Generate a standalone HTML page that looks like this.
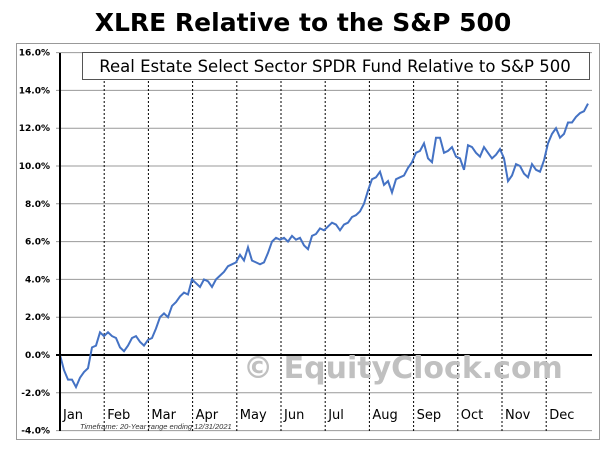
<!DOCTYPE html>
<html><head><meta charset="utf-8"><style>
body{margin:0;background:#fff;width:606px;height:454px;overflow:hidden;font-family:"DejaVu Sans","Liberation Sans",sans-serif}
</style></head><body>
<svg width="606" height="454" xmlns="http://www.w3.org/2000/svg">
<text x="303" y="31" text-anchor="middle" font-family="DejaVu Sans, sans-serif" font-weight="bold" font-size="25">XLRE Relative to the S&amp;P 500</text>
<rect x="16.5" y="43.5" width="583" height="396" fill="none" stroke="#999"/>
<g id="grid"></g>
<g id="ylabels"></g>
<g id="months"></g>
<text x="403" y="378" text-anchor="middle" font-family="DejaVu Sans, sans-serif" font-weight="bold" font-size="30" fill="#c0c0c0">© EquityClock.com</text>
<rect x="82.5" y="52.5" width="507" height="27" fill="#fff" stroke="#555"/>
<text x="335" y="72" text-anchor="middle" font-family="DejaVu Sans, sans-serif" font-size="16.5">Real Estate Select Sector SPDR Fund Relative to S&amp;P 500</text>
<path id="line" fill="none" stroke="#4472c4" stroke-width="2"/>
<line x1="60" y1="53" x2="60" y2="431" stroke="#000" stroke-width="2"/>
<text x="80" y="429" font-family="Liberation Sans, sans-serif" font-style="italic" font-size="7.5" fill="#333">Timeframe: 20-Year range ending 12/31/2021</text>
</svg>
<script>
const values=[0,-0.8,-1.3,-1.3,-1.7,-1.2,-0.9,-0.7,0.4,0.5,1.2,1.0,1.2,1.0,0.9,0.4,0.2,0.5,0.9,1.0,0.7,0.5,0.8,0.9,1.4,2.0,2.2,2.0,2.6,2.8,3.1,3.3,3.2,4.0,3.8,3.6,4.0,3.9,3.6,4.0,4.2,4.4,4.7,4.8,4.9,5.3,5.0,5.7,5.0,4.9,4.8,4.9,5.4,6.0,6.2,6.1,6.2,6.0,6.3,6.1,6.2,5.8,5.6,6.3,6.4,6.7,6.6,6.8,7.0,6.9,6.6,6.9,7.0,7.3,7.4,7.6,8.0,8.7,9.3,9.4,9.7,9.0,9.2,8.6,9.3,9.4,9.5,9.9,10.2,10.7,10.8,11.2,10.4,10.2,11.5,11.5,10.7,10.8,11.0,10.5,10.4,9.8,11.1,11.0,10.7,10.5,11.0,10.7,10.4,10.6,10.9,10.4,9.2,9.5,10.1,10.0,9.6,9.4,10.1,9.8,9.7,10.3,11.2,11.7,12.0,11.5,11.7,12.3,12.3,12.6,12.8,12.9,13.3];
const yTicks=[16,14,12,10,8,6,4,2,0,-2,-4];
const months=["Jan","Feb","Mar","Apr","May","Jun","Jul","Aug","Sep","Oct","Nov","Dec"];
const monthStarts=[0,1,2,3,4,5,6,7,8,9,10,11];
const NS="http://www.w3.org/2000/svg";
const y=v=>355-v*18.9;
const xIdx=i=>60+i*(528/(values.length-1));
const xMonth=m=>60+m*44.2;
const grid=document.getElementById('grid'),yl=document.getElementById('ylabels'),mg=document.getElementById('months');
yTicks.forEach(t=>{
 const l=document.createElementNS(NS,'line');
 l.setAttribute('x1',56);l.setAttribute('x2',592);l.setAttribute('y1',y(t));l.setAttribute('y2',y(t));
 l.setAttribute('stroke',t===0?'#000':'#999');l.setAttribute('stroke-width',t===0?2:1);
 
 
 grid.appendChild(l);
 const tx=document.createElementNS(NS,'text');
 tx.setAttribute('x',50);tx.setAttribute('y',y(t)+3);tx.setAttribute('text-anchor','end');
 tx.setAttribute('font-size','9');tx.setAttribute('font-weight','bold');tx.setAttribute('font-family','DejaVu Sans, sans-serif');
 tx.textContent=t.toFixed(1)+'%';
 
 
 yl.appendChild(tx);
});
months.forEach((m,i)=>{
 const x=xMonth(monthStarts[i]);
 if(i>0){
  const l=document.createElementNS(NS,'line');
  l.setAttribute('x1',x);l.setAttribute('x2',x);l.setAttribute('y1',53);l.setAttribute('y2',431);
  l.setAttribute('stroke','#000');l.setAttribute('stroke-dasharray','2,2');l.setAttribute('stroke-width',1);
  
  
  grid.appendChild(l);
 }
 const tx=document.createElementNS(NS,'text');
 tx.setAttribute('x',x+3);tx.setAttribute('y',419);tx.setAttribute('font-size','13');
 tx.setAttribute('font-family','DejaVu Sans, sans-serif');
 tx.textContent=m;
 
 
 mg.appendChild(tx);
});
document.getElementById('line').setAttribute('d',values.map((v,i)=>(i?'L':'M')+xIdx(i).toFixed(1)+','+y(v).toFixed(1)).join(''));
</script>
</body></html>
